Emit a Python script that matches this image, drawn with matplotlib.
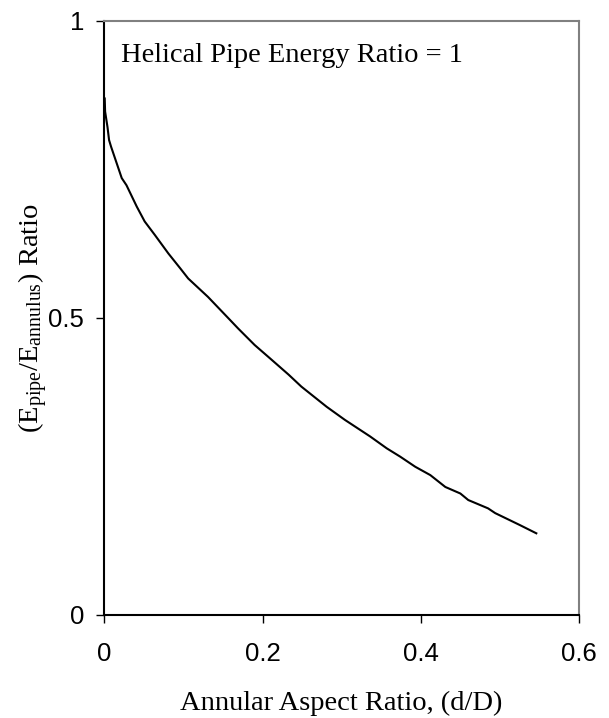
import matplotlib
matplotlib.use("Agg")
import matplotlib.pyplot as plt

# values
ratio_dD = [0.0005, 0.001, 0.004, 0.006, 0.0085, 0.022, 0.028, 0.041, 0.051, 0.064,
            0.081, 0.096, 0.106, 0.131, 0.159, 0.169, 0.190, 0.209, 0.233, 0.249,
            0.281, 0.304, 0.336, 0.357, 0.374, 0.393, 0.412, 0.431, 0.450, 0.460,
            0.485, 0.494, 0.525, 0.546]
energy_ratio = [0.869, 0.847, 0.821, 0.799, 0.788, 0.735, 0.723, 0.687, 0.662, 0.639,
                0.608, 0.583, 0.566, 0.535, 0.496, 0.482, 0.454, 0.432, 0.404, 0.384,
                0.350, 0.328, 0.300, 0.280, 0.266, 0.249, 0.235, 0.215, 0.204, 0.193,
                0.179, 0.171, 0.151, 0.137]

xticks = [0, 0.2, 0.4, 0.6]
xticklabels = ["0", "0.2", "0.4", "0.6"]
yticks = [0, 0.5, 1]
yticklabels = ["0", "0.5", "1"]

plt.rcParams['mathtext.fontset'] = 'custom'
plt.rcParams['mathtext.rm'] = 'Liberation Serif'
plt.rcParams['mathtext.it'] = 'Liberation Serif:italic'

fig = plt.figure(figsize=(6.09, 7.18), dpi=100)
ax = fig.add_axes([0.1713, 0.1439, 0.7795, 0.8273])

ax.plot(ratio_dD, energy_ratio, color='black', lw=1.5)

ax.set_xlim(0, 0.6)
ax.set_ylim(0, 1)
ax.set_xticks(xticks)
ax.set_xticklabels(xticklabels, family='Liberation Sans', fontsize=18.5)
ax.set_yticks(yticks)
ax.set_yticklabels(yticklabels, family='Liberation Sans', fontsize=18.5)
ax.tick_params(direction='out', length=5.8, width=1)
ax.tick_params(axis='x', pad=14)
ax.tick_params(axis='y', pad=8.6)

for s in ['left', 'bottom']:
    ax.spines[s].set_linewidth(1.5)
for s in ['top', 'right']:
    ax.spines[s].set_color('#808080')
    ax.spines[s].set_linewidth(1.5)

ax.set_xlabel("Annular Aspect Ratio, (d/D)", family='Liberation Serif', fontsize=20.5, va='center')
ax.xaxis.set_label_coords(0.5, -0.1487)
ax.set_ylabel(r"(E$_{\rm pipe}$/E$_{\rm annulus}$) Ratio", family='Liberation Serif', fontsize=20.5, va='center')
ax.yaxis.set_label_coords(-0.150, 0.5)

ax.text(0.036, 0.942, "Helical Pipe Energy Ratio = 1", transform=ax.transAxes,
        family='Liberation Serif', fontsize=20.5, va='center', ha='left')

fig.savefig("out.png", dpi=100)
